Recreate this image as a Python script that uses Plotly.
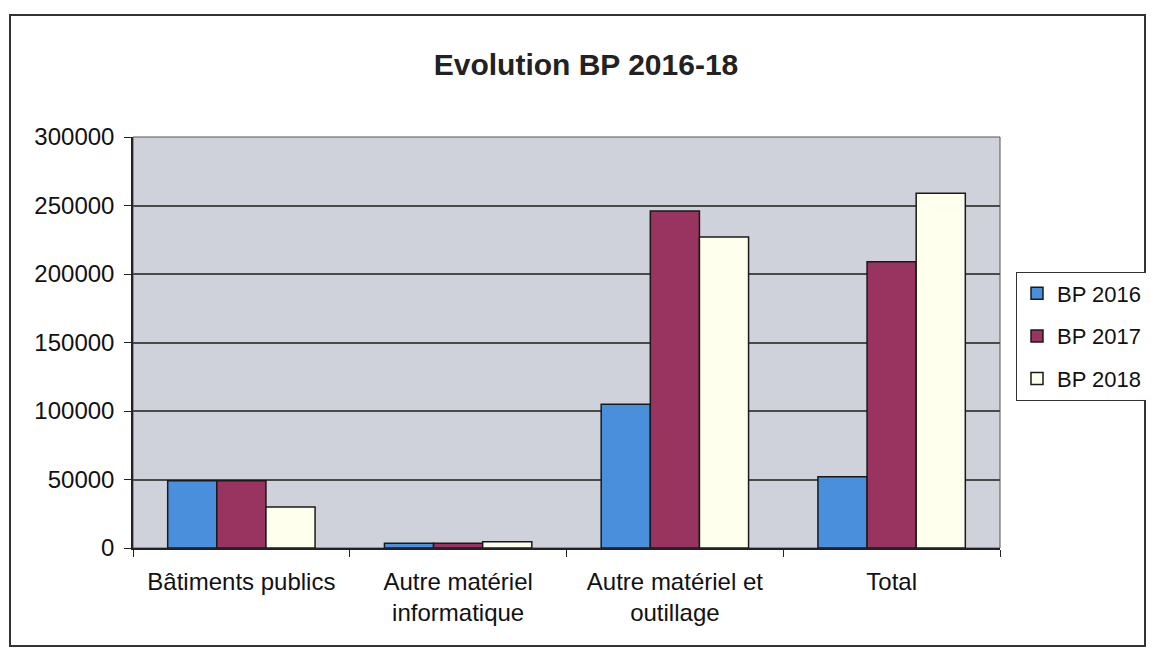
import plotly.graph_objects as go

categories = ["Bâtiments publics", "Autre matériel<br>informatique", "Autre matériel et<br>outillage", "Total"]
series_names = ["BP 2016", "BP 2017", "BP 2018"]
bp2016 = [49000, 3500, 105000, 52000]
bp2017 = [49000, 3500, 246000, 209000]
bp2018 = [30000, 4500, 227000, 259000]
y_ticks = [0, 50000, 100000, 150000, 200000, 250000, 300000]

colors = ["#4a8fdc", "#993360", "#ffffee"]
font_family = "Liberation Sans, Arial, sans-serif"

W, H = 1138, 639
L, T, R, B = 125, 129, 146, 99
PW, PH = W - L - R, H - T - B

fig = go.Figure()
for name, vals, col in zip(series_names, [bp2016, bp2017, bp2018], colors):
    fig.add_trace(go.Bar(
        name=name, x=categories, y=vals, legendgroup=name,
        marker=dict(color=col, line=dict(color="#1a1a1a", width=1.5)),
    ))

fig.update_layout(
    width=W, height=H,
    barmode="group", bargap=0.32, bargroupgap=0,
    paper_bgcolor="white", plot_bgcolor="#cfd2db",
    margin=dict(l=L, r=R, t=T, b=B, autoexpand=False),
    title=dict(text="<b>Evolution BP 2016-18</b>", x=578 / W, xanchor="center",
               y=1 - 56 / H, yanchor="middle",
               font=dict(family=font_family, size=30, color="#222")),
    font=dict(family=font_family, size=24, color="#111"),
    legend=dict(x=(1008 - L) / PW, y=(540 - 328) / PH, xanchor="left", yanchor="middle",
                bordercolor="#333", borderwidth=1, bgcolor="white",
                font=dict(size=22, color="#111"), tracegroupgap=11,
                itemwidth=30),
    showlegend=True,
)
fig.update_xaxes(
    showline=True, linecolor="#222", linewidth=1.5,
    ticks="outside", tickson="boundaries", ticklen=7, tickcolor="#222",
    showgrid=False, tickfont=dict(size=24), ticklabelstandoff=11,
)
fig.update_yaxes(
    range=[0, 300000], tickvals=y_ticks, ticktext=[str(v) for v in y_ticks],
    showline=True, linecolor="#222", linewidth=1.5,
    ticks="outside", ticklen=7, tickcolor="#222", ticklabelstandoff=5,
    showgrid=True, gridcolor="#4a4a4a", gridwidth=1.5,
    tickfont=dict(size=24), zeroline=False,
)
# outer chart border
fig.add_shape(type="rect", xref="paper", yref="paper",
              x0=(2 - L) / PW, x1=(1137 - L) / PW,
              y0=(540 - 638) / PH, y1=(540 - 7) / PH,
              line=dict(color="#333", width=2), fillcolor="rgba(0,0,0,0)")
# plot area border
fig.add_shape(type="rect", xref="paper", yref="paper", x0=0, x1=1, y0=0, y1=1,
              line=dict(color="#555", width=1), fillcolor="rgba(0,0,0,0)", layer="below")

fig.write_html("out.html")
